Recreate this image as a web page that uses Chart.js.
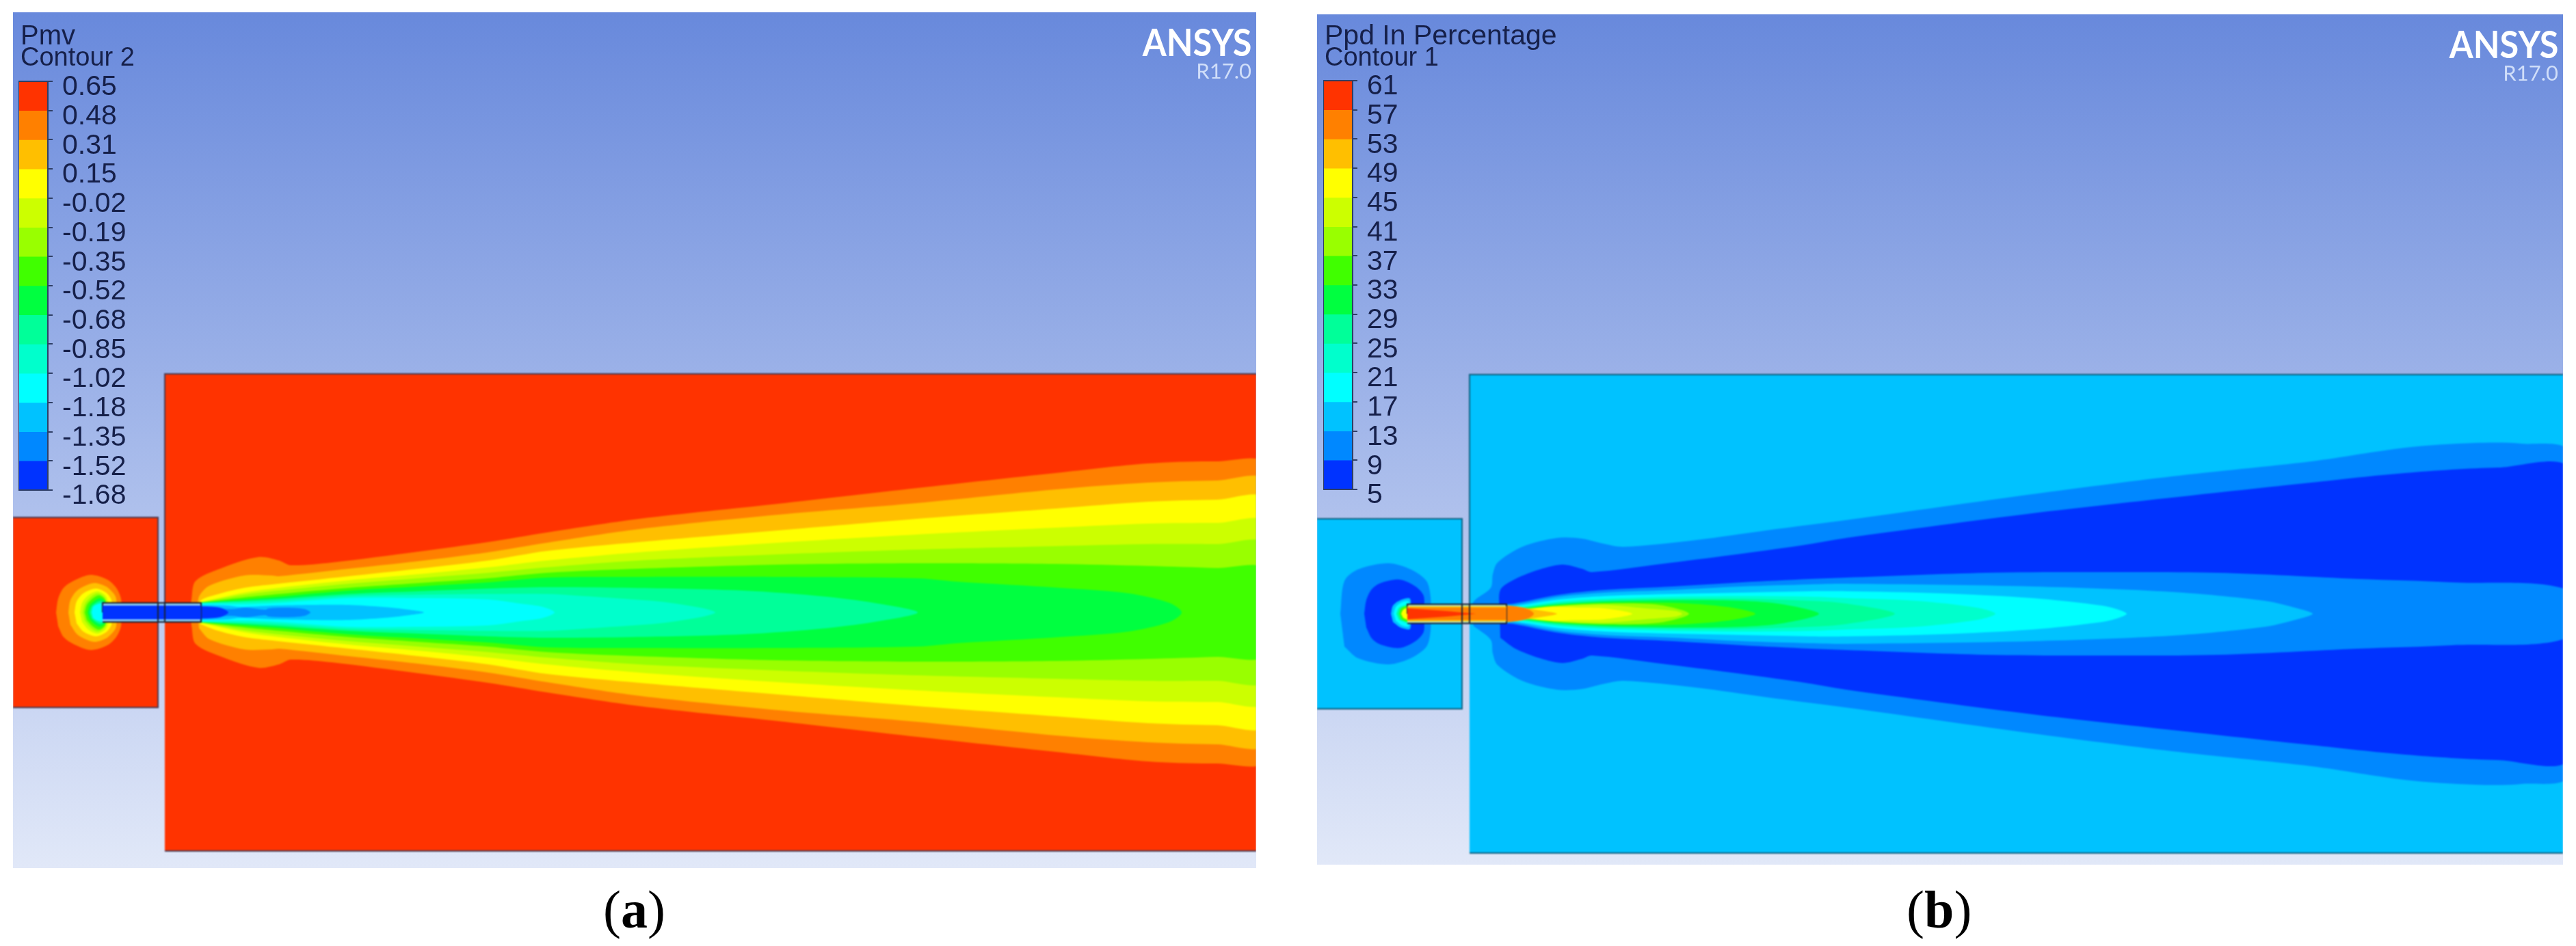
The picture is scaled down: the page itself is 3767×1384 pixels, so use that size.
<!DOCTYPE html>
<html lang="en">
<head>
<meta charset="UTF-8">
<title>Pmv and Ppd contours</title>
<script src="https://cdn.jsdelivr.net/npm/chart.js"></script>
<style>
  html, body { margin: 0; background: #fff; width: 3767px; height: 1384px; overflow: hidden; }
  .panel { position: absolute; background: linear-gradient(#6889dc, #e1e8f8); overflow: hidden; }
  .panel > canvas { position: absolute; left: 0; top: 0; filter: blur(0.8px); }
  #panelA { left: 19px; top: 18px; width: 1818px; height: 1252px; }
  #panelB { left: 1926px; top: 21px; width: 1822px; height: 1244px; }
  .scale { position: absolute; width: 260px; height: 648px; top: 81px; }
  #panelA .scale { left: 8px; }
  #panelB .scale { left: 9px; top: 77px; }
  .txt { position: absolute; white-space: nowrap; font-family: "Liberation Sans", Arial, sans-serif; color: #16204a; line-height: 1; }
  .t1 { font-size: 40px; }
  .t2 { font-size: 38px; }
  .logo { position: absolute; right: 7px; font-family: Lato, sans-serif; font-weight: 700; line-height: 1; transform-origin: right center; white-space: nowrap; }
  .logo.big { font-size: 56px; top: 15px; color: #fff; transform: scaleX(.9); }
  .logo.ver { font-size: 31px; top: 70px; color: #d0def9; font-weight: 400; }
  .caption { position: absolute; top: 1292px; font-family: "Liberation Serif", serif; font-size: 78px; line-height: 1; color: #000; }
</style>
</head>
<body>
<div class="panel" id="panelA">
  <canvas id="fieldA"></canvas>
  <div class="txt t1" style="left:11px;top:13px">Pmv</div>
  <div class="txt t2" style="left:11px;top:46px">Contour 2</div>
  <div class="scale"><canvas id="scaleA"></canvas></div>
  <div class="logo big">ANSYS</div>
  <div class="logo ver">R17.0</div>
</div>
<div class="panel" id="panelB">
  <canvas id="fieldB"></canvas>
  <div class="txt t1" style="left:11px;top:10px;font-size:41px">Ppd In Percentage</div>
  <div class="txt t2" style="left:11px;top:43px">Contour 1</div>
  <div class="scale"><canvas id="scaleB"></canvas></div>
  <div class="logo big">ANSYS</div>
  <div class="logo ver">R17.0</div>
</div>
<div class="caption" style="left:882px">(<b>a</b>)</div>
<div class="caption" style="left:2788px">(<b>b</b>)</div>

<script>
// legend levels, top to bottom
const pmvLevels = ['0.65', '0.48', '0.31', '0.15', '-0.02', '-0.19', '-0.35', '-0.52', '-0.68', '-0.85', '-1.02', '-1.18', '-1.35', '-1.52', '-1.68'];
const ppdLevels = ['61', '57', '53', '49', '45', '41', '37', '33', '29', '25', '21', '17', '13', '9', '5'];
const bandColors = ['#ff3300', '#ff8000', '#ffbf00', '#ffff00', '#ccff00', '#99ff00', '#40ff00', '#00ff40', '#00ff99', '#00ffcc', '#00ffff', '#00c2ff', '#0088ff', '#0033ff'];

// contours: [distance along the domain], [half width about the jet axis]
// room geometry
const pmvRoomSmall = [[-5, -5, 212, 212], [0, 139, 139, 0]];
const pmvRoomBig = [[222, 222, 1830, 1830], [0, 349, 349, 0]];
const pmvTube = [[131, 131, 275, 275], [0, 14, 14, 0]];
const pmvTubeCore = [[131, 131, 275, 275], [0, 10, 10, 0]];
const pmvWallLeft = [[212, 212], [14, 14]];
const pmvWallRight = [[222, 222], [14, 14]];

// Pmv, inlet side of the tube
const pmvInletOrange = [[63, 66, 74, 90, 114, 138, 151, 158, 158], [0, 20, 36, 47, 55, 48, 36, 20, 0]];
const pmvInletAmber = [[81, 84, 95, 118, 136, 147, 151, 151], [0, 18, 33, 43, 38, 28, 20, 0]];
const pmvInletYellow = [[90, 93, 103, 121, 136, 144, 144], [0, 16, 28, 35, 29, 18, 0]];
const pmvInletLime = [[98, 101, 110, 123, 134, 139, 139], [0, 14, 25, 31, 26, 16, 0]];
const pmvInletChart = [[102, 105, 113, 124, 134, 137, 137], [0, 12, 22, 28, 22, 14, 0]];
const pmvInletGreen = [[105, 108, 116, 126, 135, 135], [0, 11, 20, 25, 18, 0]];
const pmvInletSpring = [[109, 112, 119, 127, 135, 135], [0, 10, 17, 21, 15, 0]];
const pmvInletMint = [[112, 115, 121, 128, 135, 135], [0, 9, 14, 17, 13, 0]];
const pmvInletCyan = [[115, 117, 123, 135, 135], [0, 8, 12, 14, 0]];

// Pmv, jet
const pmvJetX = [270, 338, 389, 491, 593, 695, 781, 916, 1119, 1322, 1525, 1660, 1761, 1830];
const pmvJetOrange = [[259, 261, 267, 308, 359, 389, 406, 466, 593, 695, 781, 916, 1119, 1322, 1525, 1660, 1761, 1830], [0, 19, 46, 66, 81, 76, 69, 73, 89, 103, 117, 137, 159, 182, 204, 218, 221, 216]];
const pmvJetAmber = [[270, 272, 287, 338, 379, 389, 491, 593, 695, 781, 916, 1119, 1322, 1525, 1660, 1761, 1830], [0, 23, 39, 54, 54, 53, 64, 75, 88, 102, 122, 143, 160, 180, 190, 193, 192]];
const pmvJetYellow = [[272, 274, 297, 338, 379, 491, 593, 695, 781, 916, 1119, 1322, 1525, 1660, 1761, 1830], [0, 17, 26, 36, 41, 53, 64, 76, 90, 103, 120, 137, 152, 162, 165, 165]];
const pmvJetLime = [pmvJetX, [14, 29, 36, 47, 56, 66, 76, 88, 102, 114, 124, 130, 131, 131]];
const pmvJetChart = [pmvJetX, [14, 26, 32, 42, 50, 58, 66, 76, 85, 92, 97, 100, 100, 100]];
const pmvJetGreen = [pmvJetX, [14, 22, 27, 36, 43, 50, 58, 64, 70, 72, 71, 68, 65, 63]];
const pmvJetSpring = [[270, 338, 389, 491, 593, 695, 781, 916, 1119, 1322, 1381, 1531, 1631, 1691, 1709], [14, 19, 23, 32, 38, 44, 51, 52, 52, 50, 45, 36, 28, 14, 0]];
const pmvJetMint = [[270, 338, 389, 491, 593, 695, 781, 904, 1067, 1190, 1271, 1323], [14, 17, 20, 27, 31, 35, 37, 36, 32, 23, 12, 0]];
const pmvJetAqua = [[270, 338, 389, 491, 593, 695, 781, 863, 945, 1005, 1027], [14, 15, 17, 24, 26, 27, 27, 22, 16, 7, 0]];
const pmvJetCyan = [[270, 338, 389, 491, 593, 695, 741, 775, 792], [13, 12, 14, 21, 21, 19, 13, 8, 0]];
const pmvJetSky = [[270, 315, 331, 381, 435, 491, 541, 571, 601], [11, 10, 8, 10, 11, 11, 8, 5, 0]];
const pmvJetAzure = [[270, 318, 341, 369, 374, 401, 426, 435], [10, 5, 7, 4, 6, 7, 5, 0]];
const pmvJetBlue = [[270, 296, 306, 315], [9, 8, 6, 0]];

// Ppd geometry
const ppdRoomSmall = [[-5, -5, 212, 212], [0, 139, 139, 0]];
const ppdRoomBig = [[223, 223, 1830, 1830], [0, 350, 350, 0]];
const ppdTube = [[132, 132, 277, 277], [0, 14, 14, 0]];
const ppdTubeAmber = [[132, 132, 277, 277], [0, 11, 11, 0]];
const ppdTubeOrange = [[132, 132, 277, 277], [0, 9, 9, 0]];
const ppdTubeRed = [[132, 132, 190, 232], [0, 8, 4, 0]];
const ppdWallLeft = [[212, 212], [14, 14]];
const ppdWallRight = [[223, 223], [14, 14]];

// Ppd, inlet side
const ppdInletAzure = [[34, 40, 60, 104, 137, 160, 166, 166], [0, 48, 65, 74, 65, 48, 25, 0]];
const ppdInletBlue = [[69, 72, 80, 93, 121, 144, 156, 156], [0, 20, 36, 45, 50, 40, 26, 0]];
const ppdInletSky = [[108, 111, 122, 136, 136], [0, 12, 20, 22, 0]];
const ppdInletCyan = [[112, 115, 124, 134, 134], [0, 10, 17, 18, 0]];
const ppdInletMint = [[116, 120, 130, 134, 134], [0, 9, 13, 14, 0]];
const ppdInletGreen = [[120, 123, 130, 134, 134], [0, 8, 11, 12, 0]];
const ppdInletYellow = [[123, 126, 134, 134], [0, 6, 9, 0]];

// Ppd, jet, outside to axis
const ppdJetAzure = [[224, 229, 254, 257, 264, 300, 351, 387, 417, 448, 555, 657, 780, 1046, 1250, 1454, 1591, 1693, 1761, 1830], [0, 18, 38, 58, 75, 98, 111, 110, 103, 98, 108, 122, 138, 175, 201, 223, 243, 250, 249, 236]];
const ppdJetBlue = [[267, 268, 290, 326, 359, 387, 402, 504, 606, 708, 774, 1046, 1250, 1454, 1591, 1727, 1830], [0, 35, 51, 65, 72, 66, 61, 73, 86, 100, 111, 147, 170, 192, 206, 214, 211]];
const ppdCoreAzure = [[270, 287, 354, 421, 521, 621, 721, 774, 978, 1114, 1318, 1522, 1659, 1830], [14, 15, 28, 35, 40, 46, 51, 53, 60, 61, 60, 51, 46, 34]];
const ppdCoreSky = [[270, 287, 354, 421, 521, 621, 721, 774, 1046, 1250, 1386, 1441, 1456], [14, 13, 25, 31, 35, 40, 43, 44, 40, 32, 19, 6, 0]];
const ppdCoreCyan = [[270, 287, 354, 421, 521, 621, 721, 774, 910, 1046, 1148, 1172, 1184], [12, 11, 21, 26, 29, 31, 33, 33, 30, 23, 12, 6, 0]];
const ppdCoreAqua = [[270, 287, 354, 421, 521, 621, 721, 774, 876, 965, 992], [11, 9, 18, 22, 25, 26, 25, 23, 19, 9, 0]];
const ppdCoreMint = [[270, 287, 354, 421, 521, 621, 721, 774, 845], [10, 8, 16, 20, 22, 22, 19, 15, 0]];
const ppdCoreSpring = [[270, 287, 354, 421, 521, 621, 680, 734], [9, 7, 14, 18, 20, 19, 14, 0]];
const ppdCoreGreen = [[270, 287, 354, 421, 521, 600, 641], [8, 6, 13, 16, 16, 10, 0]];
const ppdCoreChart = [[270, 287, 354, 421, 500, 544], [8, 6, 12, 15, 13, 0]];
const ppdCoreLime = [[270, 287, 354, 421, 480, 525, 534], [7, 5, 11, 13, 8, 4, 0]];
const ppdCoreYellow = [[270, 287, 340, 380, 420, 461], [6, 5, 10, 9, 8, 0]];
const ppdCoreAmber = [[270, 290, 320, 345, 351], [13, 11, 6, 2, 0]];
const ppdCoreOrange = [[270, 296, 310, 317], [12, 10, 6, 0]];

const [RED, ORANGE, AMBER, YELLOW, LIME, CHART, GREEN, SPRING, MINT, AQUA, CYAN, SKY, AZURE, BLUE] = bandColors;

// one closed outline: up one side of the axis, back down the other
function outline(contour) {
  const xs = contour[0], hs = contour[1];
  const pts = xs.map((x, i) => ({ x: x, y: hs[i] }));
  for (let i = xs.length - 1; i >= 0; i--) {
    if (hs[i] !== 0) pts.push({ x: xs[i], y: -hs[i] });
  }
  return pts;
}

function band(contour, color) {
  return { data: outline(contour), showLine: true, fill: 'shape', backgroundColor: color, borderWidth: 0, pointRadius: 0, tension: 0.3 };
}

function flat(contour, color, lineColor) {
  return { data: outline(contour), showLine: true, fill: 'shape', backgroundColor: color, borderColor: lineColor || color, borderWidth: lineColor ? 2 : 0, pointRadius: 0, tension: 0 };
}

function rule(contour, lineColor) {
  return { data: outline(contour), showLine: true, fill: false, borderColor: lineColor, borderWidth: 2, pointRadius: 0, tension: 0 };
}

function drawField(id, layers, xMax, yMax, yMin) {
  // chart.js paints the first dataset last, we list them bottom layer first
  new Chart(document.getElementById(id), {
    type: 'scatter',
    data: { datasets: layers.slice().reverse() },
    options: {
      responsive: true,
      maintainAspectRatio: false,
      animation: false,
      events: [],
      layout: { padding: 0, autoPadding: false },
      plugins: { legend: { display: false }, tooltip: { enabled: false } },
      scales: {
        x: { type: 'linear', display: false, min: 0, max: xMax },
        y: { type: 'linear', display: false, min: yMin, max: yMax }
      }
    }
  });
}

const boxFrame = {
  id: 'boxFrame',
  afterDatasetsDraw(chart) {
    const a = chart.chartArea, ctx = chart.ctx;
    ctx.save();
    ctx.strokeStyle = '#2f3f66';
    ctx.lineWidth = 2;
    ctx.strokeRect(a.left, a.top, a.right - a.left, a.bottom - a.top);
    ctx.restore();
  }
};

function drawScale(id, levels) {
  new Chart(document.getElementById(id), {
    type: 'bar',
    data: {
      labels: [''],
      datasets: bandColors.map(c => ({ data: [1], backgroundColor: c, borderWidth: 0, barPercentage: 1, categoryPercentage: 1 }))
    },
    options: {
      responsive: true,
      maintainAspectRatio: false,
      animation: false,
      events: [],
      layout: { padding: { top: 20, bottom: 30, left: 0, right: 0 }, autoPadding: false },
      plugins: { legend: { display: false }, tooltip: { enabled: false } },
      scales: {
        x: { stacked: true, display: false },
        y: {
          stacked: true,
          position: 'right',
          reverse: true,
          min: 0,
          max: levels.length - 1,
          // keep the bar its full height, half labels may hang over
          afterFit(s) { s.width = 217; s.paddingTop = 0; s.paddingBottom = 0; },
          border: { display: false },
          grid: { drawOnChartArea: false, drawTicks: true, tickLength: 7, color: '#2f3f66', lineWidth: 2 },
          ticks: {
            stepSize: 1,
            autoSkip: false,
            padding: 14,
            labelOffset: 9,
            color: '#16204a',
            font: { family: '"Liberation Sans", Arial, sans-serif', size: 41 },
            callback: v => levels[v]
          }
        }
      }
    },
    plugins: [boxFrame]
  });
}

const pmvLine = '#4a3a50', ppdLine = '#0e5f80', tubeLine = '#1a2030';

drawField('fieldA', [
  flat(pmvRoomSmall, RED, pmvLine),
  flat(pmvRoomBig, RED, pmvLine),
  band(pmvInletOrange, ORANGE), band(pmvInletAmber, AMBER), band(pmvInletYellow, YELLOW), band(pmvInletLime, LIME),
  band(pmvInletChart, CHART), band(pmvInletGreen, GREEN), band(pmvInletSpring, SPRING), band(pmvInletMint, MINT), band(pmvInletCyan, CYAN),
  band(pmvJetOrange, ORANGE), band(pmvJetAmber, AMBER), band(pmvJetYellow, YELLOW), band(pmvJetLime, LIME),
  band(pmvJetChart, CHART), band(pmvJetGreen, GREEN), band(pmvJetSpring, SPRING), band(pmvJetMint, MINT),
  band(pmvJetAqua, AQUA), band(pmvJetCyan, CYAN), band(pmvJetSky, SKY), band(pmvJetAzure, AZURE), band(pmvJetBlue, BLUE),
  flat(pmvTube, '#8fd0f5', tubeLine), flat(pmvTubeCore, BLUE),
  rule(pmvWallLeft, tubeLine), rule(pmvWallRight, tubeLine)
], 1818, 878, -374);

drawField('fieldB', [
  flat(ppdRoomSmall, SKY, ppdLine),
  flat(ppdRoomBig, SKY, ppdLine),
  band(ppdInletAzure, AZURE), band(ppdInletBlue, BLUE), band(ppdInletSky, SKY), band(ppdInletCyan, CYAN),
  band(ppdInletMint, MINT), band(ppdInletGreen, GREEN), band(ppdInletYellow, YELLOW),
  band(ppdJetAzure, AZURE), band(ppdJetBlue, BLUE), band(ppdCoreAzure, AZURE), band(ppdCoreSky, SKY), band(ppdCoreCyan, CYAN),
  band(ppdCoreAqua, AQUA), band(ppdCoreMint, MINT), band(ppdCoreSpring, SPRING), band(ppdCoreGreen, GREEN), band(ppdCoreChart, CHART),
  band(ppdCoreLime, LIME), band(ppdCoreYellow, YELLOW), band(ppdCoreAmber, AMBER), band(ppdCoreOrange, ORANGE),
  flat(ppdTube, '#b5e8c5', tubeLine), flat(ppdTubeAmber, AMBER), flat(ppdTubeOrange, ORANGE), flat(ppdTubeRed, RED),
  rule(ppdWallLeft, tubeLine), rule(ppdWallRight, tubeLine)
], 1822, 877, -367);

drawScale('scaleA', pmvLevels);
drawScale('scaleB', ppdLevels);
</script>
</body>
</html>
